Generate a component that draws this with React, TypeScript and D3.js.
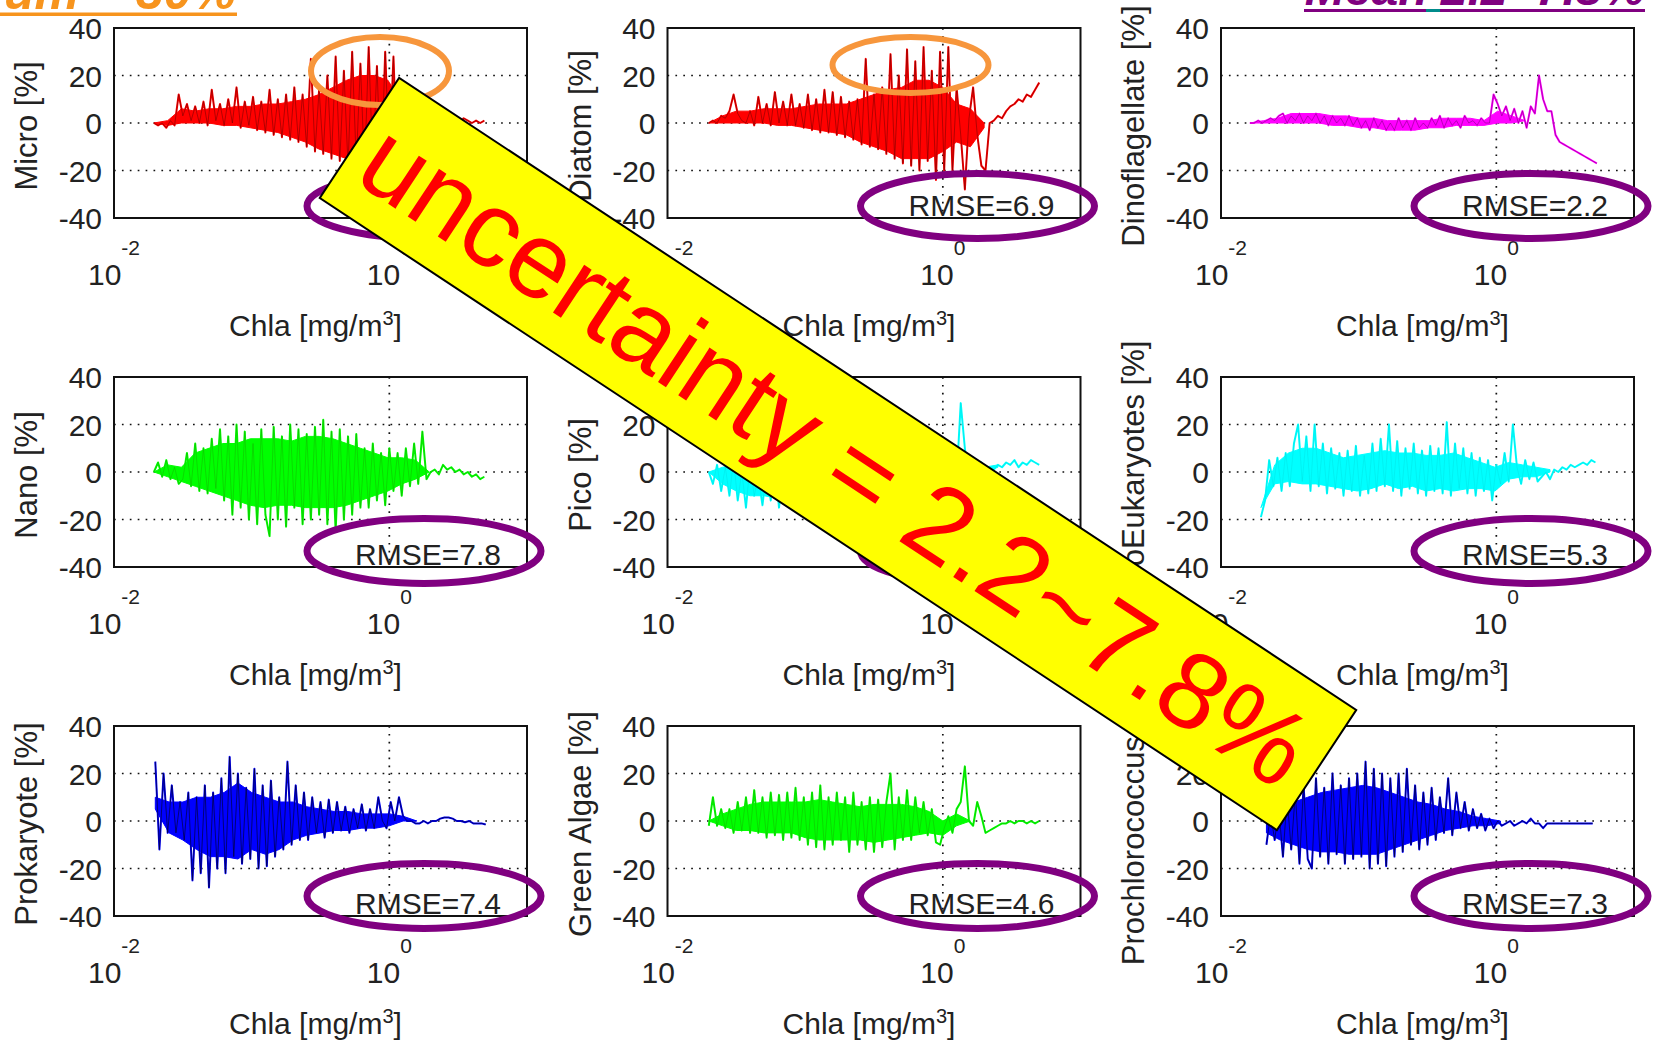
import React from "react";
import * as d3 from "d3";

// ---------------- DATA ----------------
const panelLabels = [
  "Micro [%]", "Diatom [%]", "Dinoflagellate [%]",
  "Nano [%]", "Pico [%]", "PicoEukaryotes [%]",
  "Prokaryote [%]", "Green Algae [%]", "Prochlorococcus [%]",
];
const rmseLabels: (string | null)[] = [
  null, "RMSE=6.9", "RMSE=2.2",
  "RMSE=7.8", null, "RMSE=5.3",
  "RMSE=7.4", "RMSE=4.6", "RMSE=7.3",
];
// log10(Chla) of the first sample of each series; line samples every 0.03 decade,
// dense-core band samples every 0.1 decade
const logChlaStart = [-1.71, -1.70, -1.79, -1.71, -1.70, -1.71, -1.70, -1.70, -1.67];
const logChlaStep = 0.03;
const bandStep = 0.1;

const microValues = [0,-1,0,-2,1,-1, 12,3,8,1, 7,0,9,-1,14,1,8,-1,10,0,15,-2,9,-1, 11,-3,9,-4,14,-5,10,-6,12,-7,15,-8, 12,-10,27,-12,14,-13,20, -15,28,-16,22,-18,30,-17,25, -20,32,-18,24,-22,30,-15,28, -22,12,-15,10,-12,5,-8,3, 2,1,3,0,2,-1,1,0,2,1,0,1,0,1];
const diatomValues = [0,1,0,3,2,5, 12,4,1,0, 5,-1,11,0,8,-1,13,0,9,-1,12,-1,8,-2, 12,-3,10,-4,14,-4,13,-5,11,-6,9,-7, 10,-9,27,-10,12,-11,15, -13,29,-15,20,-17,31,-18,26, -20,32,-16,22,-24,30,-20,32, -20,15,-5,-28,2,15,-5,-18,-20, 0,1,3,2,5,7,8,10,9,12,11,14,17];
const dinoValues = [0,0,1,0,1,2,1,3, 4,0,3,1,4,0,3,1,4,0,3,-1,3,0,2,-1,3,-1, 2,-2,1,-3,2,-2,1,-3,0,-3,2,-2,1,-3,2,-2,0,-2, 2,-1,3,-2,2,-1,1,-2,3,0,1,-1,2,0, 0,12,8,3,7,1,6,0,5,-2,7,4,20,10,5,5,-5,-8,-9,-10,-11,-12,-13,-14,-15,-16,-17];
const nanoValues = [0,4,-2,5,-3,2,-5,-3, 8,-6,12,-8,10,-9,14,-7, 18,-12,15,-18,20,-15,17,-20,12,-22,18,-18,-27,19,-20,15,-23,20,-15,18,-22,16,-20,19,-18,22, -22,17,-25,18,-20,15,-18,16,-15, 10,-15,12,-12,8,-14,10,-8, 8,-10,10,-6,12,-5,17, -3,0,1,-1,3,1,2,0,1,-1,0,-2,-1,-3,-2];
const picoValues = [0,-5,3,-8,2,-10,5,-12,0,-15,3,-10,-2,-14,1,-12,4,-15,0,-10,3,-13,2, 8,-10,12,-8,10,-12,14,-9,11,-13,9,-10,13,-11,10,-8,12,-12,9,-10,11,-9,8,-12,10,-7,9,-10,6,-8,7,-6,5, -4,6,-5,8,-3,29,10,-4,6,-2,4,0,2,1,3, 2,4,3,5,2,4,3,5,4,3];
const picoEukValues = [-19,-12,5,-6,6,-8, 8,-6,12,20,-4,15,-8,20,-6,12,-9,10,-7,8, -10,9,-8,11,-10,7,-9,12,-8,14,-6,20,-8,13,-10,10,-7,12,-9,9,-10,11,-8,10,-9,21,-10,12,-7,10,-9,8,-10,6,-8, 5,-12,3,-5,8,-4,20,2,-5,5,-3,4,-4, -2,0,-3,1,0,2,1,3,2,3,4,3,5,4];
const prokaryoteValues = [25,-12,20,-5,15,-5,8,-8,12,-25,10,-22,15,-28,12,-20,18,-22,27,-15,20,-18,14,-16, 22,-20,15,-19,17,-15,10,-12,25,-10,15,-8,12,-8,10,-5,8,-7,9, -5,8,-4,6,-5,5,-3,7,-4,5,-3,10,0,-3,8,0,10,2,0, 0,-1,-1,0,-1,0,0,1,1.5,1.5,1,0,0,-0.5,0,-1,-1,-1,-1.5];
const greenAlgaeValues = [-2,10,-2,5,-3,5,-5,8,-4,10, -5,13,-5,10,-7,12,-6,11,-8,12, -7,14,-8,10,-10,12,-11,15,-12,10, -10,12,-8,10,-13,12,-10,8,-12,10, -13,9,-11,8,20,-12,10,-8,13,-8, 10,-5,8,-6,5,-9,-10,-3,2,-5, 5,8,23,0,-2,8,2,-5,-4,-3, -2,-1,-1,0,-1,0,0,-1,0,-1, 0];
const prochlorococcusValues = [-10,3,-8,5,-15,10,-12,12,-18,15,-16,-20,18,-15,14,-18,20,-14,15,-18,18,-16,20,-15,25,-20,22,-18,20,-19,18,-15,20,-13,22,-10,15,-12,12,-10,14,-8,10,-5,18,-6,12,-3,8,-4,5,-3,3,-4,1,-3,0,-2,-1,0,-2,-1,0,-1,1,-1,-1,-3,-1,-1,-1,-1,-1,-1,-1,-1,-1,-1,-1,-1];

// dense core of each trace: [low, high] every 0.1 decade from the series start
const microBand = [[0,0],[-1,1],[0,6],[0,5],[0,6],[-1,6],[-1,7],[-2,7],[-3,8],[-4,8],[-6,9],[-8,10],[-11,12],[-13,15],[-15,18],[-17,20],[-18,20],[-15,18],[-10,8],[-5,4],[0,1]];
const diatomBand = [[0,0],[0,3],[0,5],[0,5],[0,6],[-1,6],[-1,6],[-2,7],[-3,8],[-4,8],[-5,8],[-8,10],[-10,12],[-12,14],[-15,15],[-15,18],[-15,18],[-12,15],[-8,8],[-10,6],[-2,0]];
const dinoBand = [[0,0],[0,1],[0,2],[0,4],[0,4],[0,4],[-1,3],[-1,3],[-2,2],[-2,2],[-3,1],[-3,1],[-3,1],[-2,1],[-2,2],[-1,2],[-1,2],[-1,1],[0,5],[0,3],[1,1]];
const nanoBand = [[0,0],[-2,3],[-4,2],[-6,8],[-8,10],[-10,12],[-12,12],[-14,14],[-15,14],[-14,14],[-14,13],[-15,15],[-15,15],[-15,14],[-14,12],[-12,10],[-10,8],[-8,6],[-5,6],[-3,5],[0,0]];
const picoBand = [[0,0],[-5,2],[-8,3],[-10,2],[-10,2],[-11,2],[-10,3],[-8,8],[-9,9],[-9,9],[-9,8],[-8,9],[-9,8],[-8,8],[-8,7],[-7,6],[-6,5],[-3,4],[-2,5],[0,3],[0,2],[2,3]];
const picoEukBand = [[-15,-15],[-5,3],[-4,8],[-5,10],[-5,10],[-6,8],[-7,6],[-8,7],[-7,8],[-5,9],[-7,8],[-6,8],[-8,7],[-7,7],[-8,8],[-7,6],[-7,4],[-8,2],[-3,4],[-2,3],[-2,2],[0,1]];
const prokaryoteBand = [[5,10],[-5,8],[-8,8],[-12,10],[-15,10],[-15,12],[-16,16],[-12,12],[-14,10],[-12,8],[-8,8],[-6,6],[-5,5],[-4,4],[-4,4],[-3,3],[-3,3],[-2,3],[0,2],[0,0]];
const greenAlgaeBand = [[0,0],[-2,3],[-4,5],[-4,7],[-5,8],[-5,8],[-5,8],[-7,8],[-8,9],[-8,8],[-8,7],[-8,6],[-9,7],[-8,7],[-7,7],[-6,6],[-5,4],[-6,0],[-2,3],[0,0]];
const prochlorococcusBand = [[-5,0],[-8,5],[-10,8],[-12,10],[-13,12],[-13,13],[-14,14],[-14,15],[-14,14],[-12,12],[-10,10],[-8,8],[-6,7],[-4,5],[-3,4],[-2,2],[-2,1],[-1,0]];

const seriesValues = [
  microValues, diatomValues, dinoValues,
  nanoValues, picoValues, picoEukValues,
  prokaryoteValues, greenAlgaeValues, prochlorococcusValues,
];
const seriesBands = [
  microBand, diatomBand, dinoBand,
  nanoBand, picoBand, picoEukBand,
  prokaryoteBand, greenAlgaeBand, prochlorococcusBand,
];

const yTicks = [40, 20, 0, -20, -40];
const yGrid = [20, 0, -20];
const xTicks = [0.01, 1];
const xTickExponents = ["-2", "0"];
const xGrid = [1];
const xDomain = [0.01, 10];
const yDomain = [-40, 40];
const xAxisLabel = "Chla [mg/m";

const bannerText = "uncertainty = 2.2~7.8%";
const leftTitle = "Maximum ~ 30%";
const rightTitle = "Mean 2.2~7.8%";

// ---------------- STYLE ----------------
const seriesColors = ["#FF0000", "#FF0000", "#FF00FF", "#00FF00", "#00FFFF", "#00FFFF", "#0000FF", "#00FF00", "#0000FF"];
const seriesEdges = ["#600000", "#600000", "#600060", "#2a6a00", "#007a7a", "#007a7a", "#000020", "#2a6a00", "#000020"];
const edgeOpacity = [0.6, 0.6, 0.55, 0.3, 0.12, 0.12, 0.75, 0.3, 0.75];
const FONT = "'Liberation Sans', Arial, Helvetica, sans-serif";
const TEXT = "#222";
const PURPLE = "#800080";
const ORANGE = "#F7963C";

function geom(i: number) {
  const col = i % 3, row = Math.floor(i / 3);
  const left = 114 + col * 553.5;
  const top = 28 + row * 349;
  return { col, row, left, top, w: 413, h: 190 };
}

function Panel({ i }: { i: number }) {
  const { left, top, w, h } = geom(i);
  const x = d3.scaleLog().domain(xDomain).range([left, left + w]);
  const y = d3.scaleLinear().domain(yDomain).range([top + h, top]);
  const data: [number, number][] = seriesValues[i].map((v, k) => [
    Math.pow(10, logChlaStart[i] + logChlaStep * k), v,
  ]);
  const band = seriesBands[i].map((b, k) => ({
    c: Math.pow(10, logChlaStart[i] + bandStep * k), lo: b[0], hi: b[1],
  }));
  const line = d3.line<[number, number]>().x(d => x(d[0])).y(d => y(d[1]));
  const area = d3.area<{ c: number; lo: number; hi: number }>()
    .x(d => x(d.c)).y0(d => y(d.lo)).y1(d => y(d.hi));
  const path = line(data) || "";
  const clipId = `clip${i}`;
  return (
    <g fontFamily={FONT} fill={TEXT}>
      <clipPath id={clipId}>
        <rect x={left} y={top} width={w} height={h} />
      </clipPath>
      <rect x={left} y={top} width={w} height={h} fill="#fff" />
      {yGrid.map(v => (
        <line key={v} x1={left} x2={left + w} y1={y(v)} y2={y(v)} stroke="#111" strokeWidth={1.7} strokeDasharray="1.7,6.2" />
      ))}
      {xGrid.map(v => (
        <line key={v} x1={x(v)} x2={x(v)} y1={top} y2={top + h} stroke="#111" strokeWidth={1.7} strokeDasharray="1.7,6.2" />
      ))}
      <g clipPath={`url(#${clipId})`}>
        <path d={area(band) || ""} fill={seriesColors[i]} stroke={seriesColors[i]} strokeWidth={1} />
        <path d={path} fill="none" stroke={seriesColors[i]} strokeWidth={2} strokeLinejoin="round" />
        <path d={path} fill="none" stroke={seriesEdges[i]} strokeWidth={0.8} opacity={edgeOpacity[i]} />
      </g>
      <rect x={left} y={top} width={w} height={h} fill="none" stroke="#111" strokeWidth={2} />
      {yTicks.map(v => (
        <text key={v} x={left - 12} y={y(v) + 11} textAnchor="end" fontSize={30}>{v}</text>
      ))}
      {xTicks.map((v, k) => (
        <text key={v} x={x(v)} y={top + 257} textAnchor="middle" fontSize={30}>
          10<tspan dy={-30} fontSize={21}>{xTickExponents[k]}</tspan>
        </text>
      ))}
      <text x={left + w / 2 - 5} y={top + 308} textAnchor="middle" fontSize={30}>
        {xAxisLabel}<tspan dy={-11} fontSize={20}>3</tspan><tspan dy={11}>]</tspan>
      </text>
      <text transform={`translate(${left - 77},${top + 98}) rotate(-90)`} textAnchor="middle" fontSize={31}>
        {panelLabels[i]}
      </text>
      {rmseLabels[i] && (
        <text x={left + 241} y={top + h - 2} fontSize={30}>{rmseLabels[i]}</text>
      )}
    </g>
  );
}

const orangeMarks = [
  { panel: 0, dx: 266, dy: 43, rx: 69, ry: 34 },
  { panel: 1, dx: 243, dy: 37, rx: 78, ry: 28 },
];

export default function App() {
  const idx = d3.range(9);
  return (
    <svg width={1654} height={1045} style={{ position: "fixed", left: 0, top: 0, background: "#fff" }}>
      <rect x={0} y={0} width={1654} height={1045} fill="#fff" />
      {idx.map(i => <Panel key={i} i={i} />)}
      {idx.map(i => {
        const { left, top, row } = geom(i);
        return (
          <ellipse key={i} cx={left + 310} cy={top + 178 - row * 4} rx={117} ry={32.5}
            fill="none" stroke={PURPLE} strokeWidth={7} />
        );
      })}
      {orangeMarks.map(m => {
        const { left, top } = geom(m.panel);
        return (
          <ellipse key={m.panel} cx={left + m.dx} cy={top + m.dy} rx={m.rx} ry={m.ry}
            fill="none" stroke={ORANGE} strokeWidth={6} />
        );
      })}
      <g transform="translate(838,454) rotate(33.44)">
        <rect x={-573.5} y={-72} width={1147} height={144} fill="#FFFF00" stroke="#000" strokeWidth={2} />
        <text x={-2} y={39} textAnchor="middle" fontSize={108} fill="#FF0000" fontFamily={FONT}>
          {bannerText}
        </text>
      </g>
      <text x={236} y={9} textAnchor="end" fontSize={50} fontWeight="bold" fontStyle="italic" fill="#F7941D" fontFamily={FONT}>
        {leftTitle}
      </text>
      <rect x={0} y={12.5} width={237} height={3.5} fill="#F7941D" />
      <text x={1645} y={5} textAnchor="end" fontSize={48} fontWeight="bold" fontStyle="italic" fill={PURPLE} fontFamily={FONT}>
        {rightTitle}
      </text>
      <rect x={1304} y={9} width={341} height={3} fill={PURPLE} />
      <rect x={1426} y={9} width={14} height={3} fill="#008B8B" />
    </svg>
  );
}
